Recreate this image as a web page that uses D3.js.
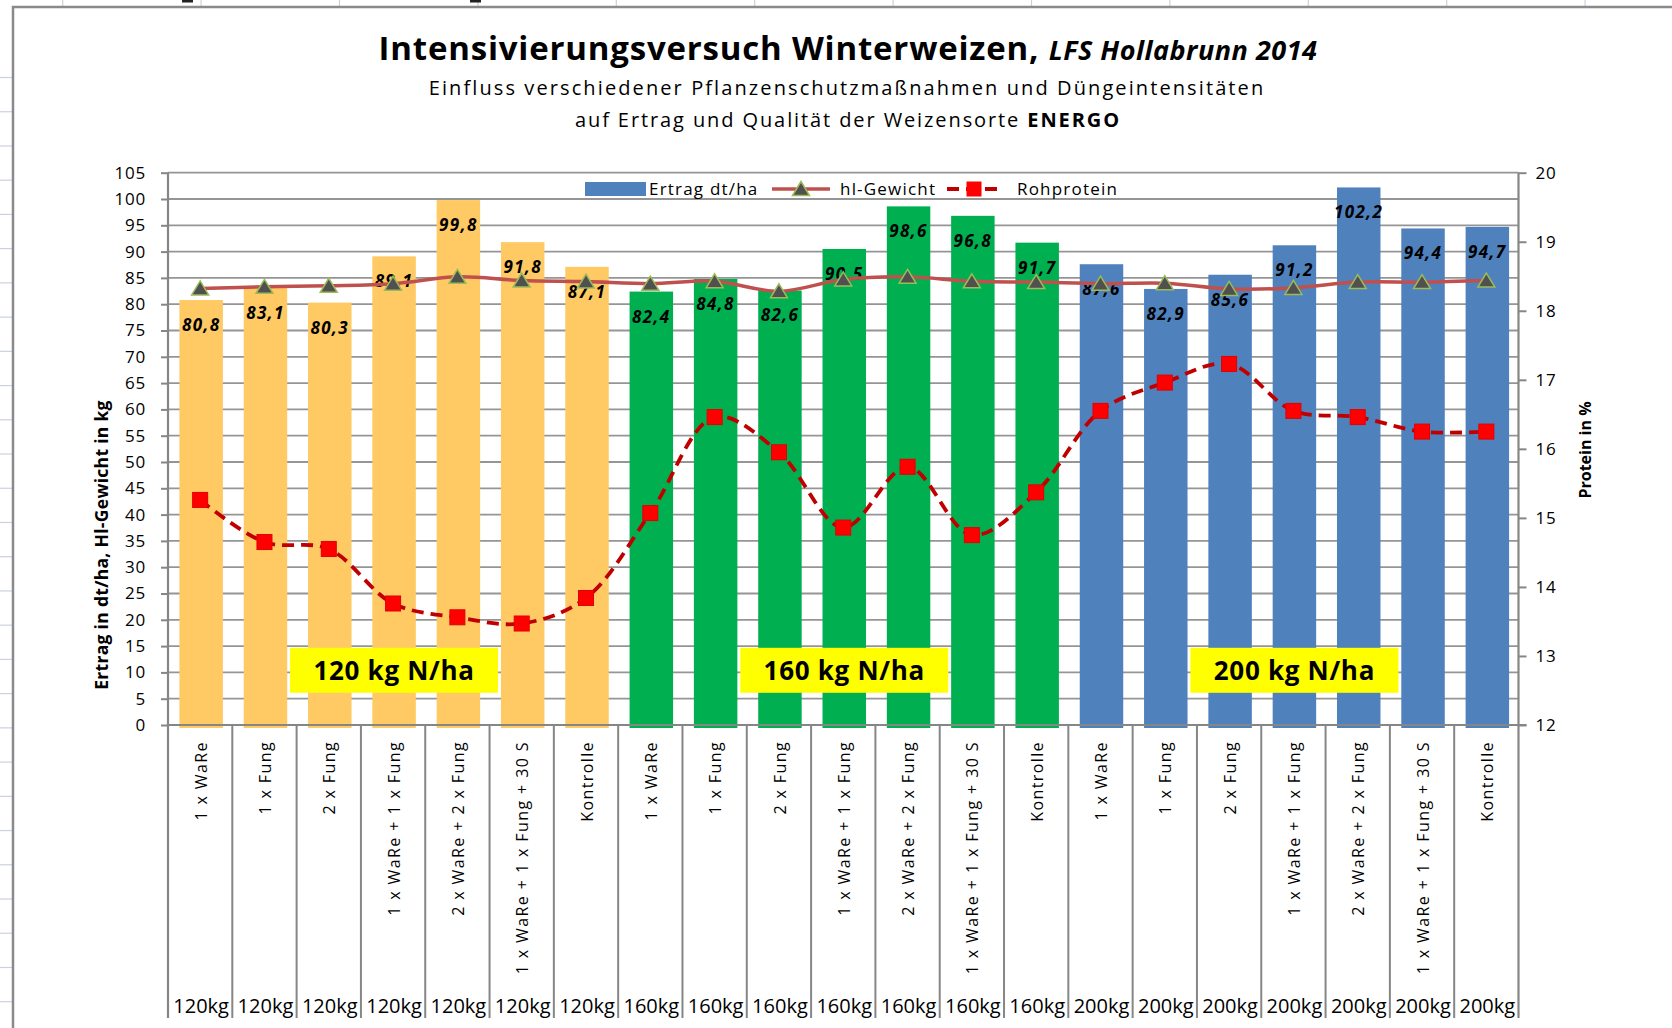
<!DOCTYPE html>
<html lang="de">
<head>
<meta charset="UTF-8">
<title>Intensivierungsversuch Winterweizen</title>
<script src="https://cdn.jsdelivr.net/npm/d3@7"></script>
<style>
    body { margin: 0; background: #ffffff; }
    svg { display: block; font-family: 'Open Sans', sans-serif; }
</style>
</head>
<body>
<svg id="mainsvg" width="1672" height="1028"></svg>
<script>

    // Data
    const treatments = ['1 x WaRe', '1 x Fung', '2 x Fung', '1 x WaRe + 1 x Fung',
                        '2 x WaRe + 2 x Fung', '1 x WaRe + 1 x Fung + 30 S', 'Kontrolle'];
    const nLevels = ['120kg', '160kg', '200kg'];
    const groupLabels = ['120 kg N/ha', '160 kg N/ha', '200 kg N/ha'];
    const groupColors = ['#FFC964', '#00B050', '#4F81BD'];

    const ertrag = [80.8, 83.1, 80.3, 89.1, 99.8, 91.8, 87.1,
                    82.4, 84.8, 82.6, 90.5, 98.6, 96.8, 91.7,
                    87.6, 82.9, 85.6, 91.2, 102.2, 94.4, 94.7];
    const hlGewicht = [83.0, 83.3, 83.5, 83.9, 85.2, 84.5, 84.3,
                       83.9, 84.35, 82.45, 84.7, 85.2, 84.35, 84.2,
                       83.9, 84.0, 82.9, 83.1, 84.2, 84.2, 84.5];
    const rohprotein = [15.26, 14.65, 14.55, 13.76, 13.56, 13.47, 13.84,
                        15.07, 16.46, 15.95, 14.86, 15.74, 14.75, 15.37,
                        16.55, 16.96, 17.23, 16.55, 16.46, 16.25, 16.25];
    const leftTicks = d3.range(0, 106, 5);
    const rightTicks = d3.range(12, 21, 1);

    const rows = nLevels.flatMap((lvl, g) => treatments.map((t, i) => {
        const k = g * treatments.length + i;
        return {id: k, group: g, treatment: t, level: lvl,
                ertrag: ertrag[k], hl: hlGewicht[k], protein: rohprotein[k]};
    }));

    const de = d3.formatLocale({decimal: ',', thousands: '.', grouping: [3], currency: ['', '€']});
    const fmt = de.format('.1f');

    const svg = d3.select('#mainsvg');
    const plot = {left: 168, right: 1518.5, top: 172.7, bottom: 725};
    const axisColor = '#868686';

    //Scales
    const x = d3.scaleBand()
        .domain(rows.map(d => d.id))
        .range([plot.left, plot.right]);
    const bw = x.bandwidth();
    const cx = id => x(id) + bw / 2;
    const yLeft = d3.scaleLinear().domain([0, 105]).range([plot.bottom, plot.top]);
    const yRight = d3.scaleLinear().domain([12, 20]).range([plot.bottom, plot.top]);

    //Spreadsheet behind the chart
    const sheet = svg.append('g').attr('stroke', '#C9D1E2').attr('stroke-width', 1.2);
    d3.range(12).forEach(k => sheet.append('line')
        .attr('x1', 62.7 + 138.4 * k).attr('x2', 62.7 + 138.4 * k).attr('y1', 0).attr('y2', 7));
    d3.range(28).forEach(k => sheet.append('line')
        .attr('x1', 0).attr('x2', 13).attr('y1', 77.5 + 34.23 * k).attr('y2', 77.5 + 34.23 * k));
    svg.append('rect').attr('x', 182).attr('y', 0).attr('width', 11).attr('height', 2.5).attr('fill', '#222');
    svg.append('rect').attr('x', 470).attr('y', 0).attr('width', 11).attr('height', 2.5).attr('fill', '#222');

    //Chart frame
    svg.append('path')
        .attr('d', 'M13,1030 V7 H1674')
        .attr('fill', 'none')
        .attr('stroke', '#8A8A8A')
        .attr('stroke-width', 2.5);

    //Title
    const title = svg.append('text')
        .attr('x', 848).attr('y', 60)
        .attr('text-anchor', 'middle');
    title.append('tspan')
        .attr('font-size', 33).attr('font-weight', 'bold').attr('letter-spacing', 0.8)
        .text('Intensivierungsversuch Winterweizen, ');
    title.append('tspan')
        .attr('font-size', 27).attr('font-weight', 'bold').attr('font-style', 'italic')
        .attr('letter-spacing', 0.5)
        .text('LFS Hollabrunn 2014');

    svg.append('text')
        .attr('x', 847).attr('y', 95)
        .attr('text-anchor', 'middle')
        .attr('font-size', 20).attr('letter-spacing', 2.1)
        .text('Einfluss verschiedener Pflanzenschutzmaßnahmen und Düngeintensitäten');

    const sub2 = svg.append('text')
        .attr('x', 848).attr('y', 127)
        .attr('text-anchor', 'middle')
        .attr('font-size', 20).attr('letter-spacing', 1.9);
    sub2.append('tspan').text('auf Ertrag und Qualität der Weizensorte ');
    sub2.append('tspan').attr('font-weight', 'bold').text('ENERGO');

    //Gridlines
    svg.append('g')
        .selectAll('line')
        .data(leftTicks)
        .join('line')
        .attr('x1', plot.left).attr('x2', plot.right)
        .attr('y1', d => yLeft(d)).attr('y2', d => yLeft(d))
        .attr('stroke', '#959595')
        .attr('stroke-width', 1.8);

    //Bars
    svg.append('g')
        .selectAll('rect')
        .data(rows)
        .join('rect')
        .attr('x', d => cx(d.id) - bw * 0.338 + 1)
        .attr('width', bw * 0.676)
        .attr('y', d => yLeft(d.ertrag))
        .attr('height', d => yLeft(0) - yLeft(d.ertrag) + 3)
        .attr('fill', d => groupColors[d.group]);

    //Bar labels
    svg.append('g')
        .selectAll('text')
        .data(rows)
        .join('text')
        .attr('x', d => cx(d.id) + 1)
        .attr('y', d => yLeft(d.ertrag) + 25)
        .attr('dy', '0.35em')
        .attr('text-anchor', 'middle')
        .attr('font-size', 17)
        .attr('font-weight', 'bold')
        .attr('font-style', 'italic')
        .attr('letter-spacing', 1.4)
        .attr('fill', '#000')
        .text(d => fmt(d.ertrag));

    //Group annotation boxes
    const boxes = svg.append('g')
        .selectAll('g')
        .data(groupLabels)
        .join('g')
        .attr('transform', (d, g) => `translate(${cx(g * treatments.length + 3) + 1},${yLeft(10.4)})`);
    boxes.append('rect')
        .attr('x', -104).attr('y', -22.5)
        .attr('width', 208).attr('height', 45)
        .attr('fill', '#FFFF00');
    boxes.append('text')
        .attr('text-anchor', 'middle')
        .attr('dy', '0.36em')
        .attr('font-size', 26)
        .attr('font-weight', 'bold')
        .attr('letter-spacing', 0.7)
        .text(d => d);

    //hl-Gewicht line
    const triangle = (px, py) => `M${px},${py - 7.5}L${px + 8.5},${py + 6.5}L${px - 8.5},${py + 6.5}Z`;
    const hlLine = d3.line()
        .x(d => cx(d.id))
        .y(d => yLeft(d.hl))
        .curve(d3.curveCatmullRom.alpha(0.5));
    svg.append('path')
        .datum(rows)
        .attr('d', hlLine)
        .attr('fill', 'none')
        .attr('stroke', '#C0504D')
        .attr('stroke-width', 3.5);
    svg.append('g')
        .selectAll('path')
        .data(rows)
        .join('path')
        .attr('d', d => triangle(cx(d.id), yLeft(d.hl)))
        .attr('fill', '#505050')
        .attr('stroke', '#9BBB59')
        .attr('stroke-width', 1.5);

    //Rohprotein line
    const protLine = d3.line()
        .x(d => cx(d.id))
        .y(d => yRight(d.protein))
        .curve(d3.curveCatmullRom.alpha(0.5));
    svg.append('path')
        .datum(rows)
        .attr('d', protLine)
        .attr('fill', 'none')
        .attr('stroke', '#C00000')
        .attr('stroke-width', 3.8)
        .attr('stroke-dasharray', '12,7');
    svg.append('g')
        .selectAll('rect')
        .data(rows)
        .join('rect')
        .attr('x', d => cx(d.id) - 7.5)
        .attr('y', d => yRight(d.protein) - 7.5)
        .attr('width', 15).attr('height', 15)
        .attr('fill', '#FF0000')
        .attr('stroke', '#E00000')
        .attr('stroke-width', 1);

    //Axes
    const leftAxis = svg.append('g')
        .attr('transform', `translate(${plot.left},0)`)
        .call(d3.axisLeft(yLeft).tickValues(leftTicks).tickSize(7).tickPadding(15));
    const rightAxis = svg.append('g')
        .attr('transform', `translate(${plot.right},0)`)
        .call(d3.axisRight(yRight).tickValues(rightTicks).tickSize(8).tickPadding(9));
    [leftAxis, rightAxis].forEach(a => {
        a.select('.domain').attr('stroke', axisColor).attr('stroke-width', 2.2)
            .attr('d', `M0,${plot.top}V1018`);
        a.selectAll('.tick line').attr('stroke', axisColor).attr('stroke-width', 2);
        a.selectAll('.tick text')
            .attr('font-family', "'Open Sans', sans-serif")
            .attr('font-size', 17)
            .attr('letter-spacing', 0.8)
            .attr('fill', '#000');
    });

    //Category axis
    svg.append('line')
        .attr('x1', plot.left).attr('x2', plot.right + 8)
        .attr('y1', plot.bottom).attr('y2', plot.bottom)
        .attr('stroke', axisColor).attr('stroke-width', 2.2);
    svg.append('g')
        .selectAll('line')
        .data(rows.slice(1))
        .join('line')
        .attr('x1', d => x(d.id)).attr('x2', d => x(d.id))
        .attr('y1', plot.bottom).attr('y2', 1018)
        .attr('stroke', axisColor)
        .attr('stroke-width', 2);
    svg.append('g')
        .selectAll('text')
        .data(rows)
        .join('text')
        .attr('transform', d => `translate(${cx(d.id) + 1},741) rotate(-90)`)
        .attr('dy', '0.35em')
        .attr('text-anchor', 'end')
        .attr('font-size', 16)
        .attr('letter-spacing', 1.4)
        .text(d => d.treatment);
    svg.append('g')
        .selectAll('text')
        .data(rows)
        .join('text')
        .attr('x', d => cx(d.id) + 1)
        .attr('y', 1006)
        .attr('dy', '0.35em')
        .attr('text-anchor', 'middle')
        .attr('font-size', 20)
        .text(d => d.level);

    //Axis titles
    svg.append('text')
        .attr('transform', 'translate(102,545) rotate(-90)')
        .attr('dy', '0.35em')
        .attr('text-anchor', 'middle')
        .attr('font-size', 17.5)
        .attr('font-weight', 'bold')
        .attr('letter-spacing', 0.3)
        .text('Ertrag in dt/ha, Hl-Gewicht in kg');
    svg.append('text')
        .attr('transform', 'translate(1585,450) rotate(-90)')
        .attr('dy', '0.35em')
        .attr('text-anchor', 'middle')
        .attr('font-size', 16)
        .attr('font-weight', 'bold')
        .text('Protein in %');

    //Legend
    const legend = svg.append('g').attr('font-size', 17).attr('letter-spacing', 1.2);
    const ly = 189;
    legend.append('rect').attr('x', 585).attr('y', ly - 7).attr('width', 61).attr('height', 14).attr('fill', groupColors[2]);
    legend.append('text').attr('x', 649).attr('y', ly).attr('dy', '0.35em').text('Ertrag dt/ha');
    legend.append('line').attr('x1', 772).attr('x2', 830).attr('y1', ly).attr('y2', ly)
        .attr('stroke', '#C0504D').attr('stroke-width', 3.5);
    legend.append('path').attr('d', triangle(801, ly)).attr('fill', '#505050')
        .attr('stroke', '#9BBB59').attr('stroke-width', 1.5);
    legend.append('text').attr('x', 840).attr('y', ly).attr('dy', '0.35em').text('hl-Gewicht');
    legend.append('line').attr('x1', 947).attr('x2', 1001).attr('y1', ly).attr('y2', ly)
        .attr('stroke', '#C00000').attr('stroke-width', 3.8).attr('stroke-dasharray', '12,7');
    legend.append('rect').attr('x', 974 - 7.5).attr('y', ly - 7.5).attr('width', 15).attr('height', 15)
        .attr('fill', '#FF0000');
    legend.append('text').attr('x', 1017).attr('y', ly).attr('dy', '0.35em').text('Rohprotein');

</script>
</body>
</html>
